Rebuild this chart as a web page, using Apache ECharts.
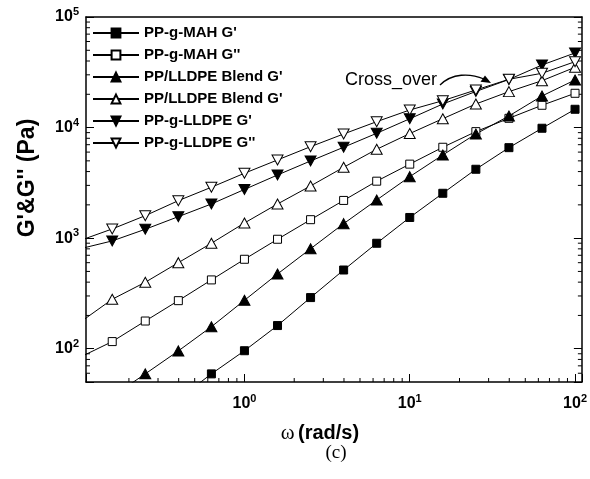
<!DOCTYPE html>
<html>
<head>
<meta charset="utf-8">
<script src="https://cdn.jsdelivr.net/npm/echarts@6/dist/echarts.min.js"></script>
<style>
html,body{margin:0;padding:0;background:#fff;}
#c{width:590px;height:479px;}
</style>
</head>
<body>
<div id="c"></div>
<script>
// ---- data ----
const freq = [0.1, 0.1585, 0.2512, 0.3981, 0.631, 1, 1.585, 2.512, 3.981, 6.31, 10, 15.85, 25.12, 39.81, 63.1, 100];
const mahGp    = [null, null, null, 35, 59.2, 95.9, 162, 290, 515, 899, 1538, 2546, 4198, 6580, 9860, 14640];
const mahGpp   = [83, 116, 178, 272, 419, 644, 977, 1469, 2193, 3275, 4670, 6637, 9190, 12130, 15910, 20420];
const blendGp  = [null, 37, 59.2, 95.5, 158, 274, 474, 802, 1352, 2213, 3596, 5651, 8750, 12730, 19310, 26940];
const blendGpp = [171, 280, 399, 600, 899, 1371, 2037, 2965, 4373, 6365, 8828, 12030, 16340, 21130, 26550, 35080];
const lldpeGp  = [798, 944, 1203, 1564, 2037, 2756, 3726, 4989, 6638, 8878, 12010, 16340, 21200, 27220, 36810, 47290];
const lldpeGpp = [946, 1211, 1597, 2183, 2886, 3863, 5096, 6719, 8750, 11310, 14420, 17500, 21880, 27330, 30980, 39440];

const seriesNames  = ['mahGp', 'mahGpp', 'blendGp', 'blendGpp', 'lldpeGp', 'lldpeGpp'];
const legendLabels = ["PP-g-MAH G'", "PP-g-MAH G''", "PP/LLDPE Blend G'", "PP/LLDPE Blend G'", "PP-g-LLDPE G'", "PP-g-LLDPE G''"];

// axis ranges and minor tick positions
const X_MIN = 0.11, X_MAX = 110;
const Y_MIN = 50, Y_MAX = 100000;
const xMinorTicks = [0.2,0.3,0.4,0.5,0.6,0.7,0.8,0.9, 2,3,4,5,6,7,8,9, 20,30,40,50,60,70,80,90];
const yMinorTicks = [60,70,80,90, 200,300,400,500,600,700,800,900, 2000,3000,4000,5000,6000,7000,8000,9000, 20000,30000,40000,50000,60000,70000,80000,90000];

const SANS = 'Liberation Sans, Arial, Helvetica, sans-serif';
const SERIF = 'Liberation Serif, Times New Roman, serif';

function pairs(arr){ const out=[]; arr.forEach((v,i)=>{ if(v!==null) out.push([freq[i], v]); }); return out; }

const DOWN_TRI = 'path://M0,0 L12,0 L6,10 Z';
function mk(name, arr, symbol, filled){
  return {
    name, type:'line', data: pairs(arr), symbol,
    symbolSize: symbol === 'rect' ? 8 : [11, 10],
    showAllSymbol: true, clip: true,
    lineStyle:{color:'#000', width:1},
    itemStyle:{color: filled ? '#000' : '#fff', borderColor:'#000', borderWidth:1},
    emphasis:{disabled:true}
  };
}

function powLabel(v){
  const l = Math.log10(v); const e = Math.round(l);
  if (Math.abs(l - e) > 1e-6) return '';
  return '{b|10}{s|' + e + '}';
}
const labelRich = {
  b:{fontSize:16, fontWeight:'bold', fontFamily:SANS, color:'#000'},
  s:{fontSize:11, fontWeight:'bold', fontFamily:SANS, color:'#000', padding:[0,0,10,0]}
};

const chart = echarts.init(document.getElementById('c'), null, {renderer:'canvas'});
const axisLine = {show:true, lineStyle:{color:'#000', width:1.5}};
chart.setOption({
  animation:false,
  backgroundColor:'#fff',
  grid:{left:86, top:17, right:5, bottom:97, containLabel:false},
  xAxis:[
    {type:'log', logBase:10, min:X_MIN, max:X_MAX, position:'bottom',
     axisLine, axisTick:{show:true, inside:true, length:8, lineStyle:{color:'#000', width:1}},
     axisLabel:{formatter:powLabel, rich:labelRich, margin:11, showMinLabel:true, showMaxLabel:true},
     splitLine:{show:false}, minorTick:{show:false}},
    {type:'log', logBase:10, min:X_MIN, max:X_MAX, position:'top',
     axisLine, axisTick:{show:false}, axisLabel:{show:false}, splitLine:{show:false}}
  ],
  yAxis:[
    {type:'log', logBase:10, min:Y_MIN, max:Y_MAX, position:'left',
     axisLine, axisTick:{show:true, inside:true, length:8, lineStyle:{color:'#000', width:1}},
     axisLabel:{formatter:powLabel, rich:labelRich, margin:7},
     splitLine:{show:false}},
    {type:'log', logBase:10, min:Y_MIN, max:Y_MAX, position:'right',
     axisLine, axisTick:{show:true, inside:true, length:8, lineStyle:{color:'#000', width:1}},
     axisLabel:{show:false}, splitLine:{show:false}}
  ],
  legend:{
    data: seriesNames, orient:'vertical', left:87, top:20,
    itemWidth:46, itemHeight:11, itemGap:6,
    formatter: n => legendLabels[seriesNames.indexOf(n)],
    textStyle:{fontFamily:SANS, fontSize:15, fontWeight:'bold', color:'#000', lineHeight:16},
    selectedMode:false
  },
  series:[
    mk('mahGp', mahGp, 'rect', true),
    mk('mahGpp', mahGpp, 'rect', false),
    mk('blendGp', blendGp, 'triangle', true),
    mk('blendGpp', blendGpp, 'triangle', false),
    mk('lldpeGp', lldpeGp, DOWN_TRI, true),
    mk('lldpeGpp', lldpeGpp, DOWN_TRI, false),
    {type:'custom', name:'xminor', silent:true, data: xMinorTicks.map(v=>[v, Y_MIN]),
     renderItem:(p, api)=>{ const b = api.coord([api.value(0), Y_MIN]);
       return {type:'line', shape:{x1:b[0], y1:b[1], x2:b[0], y2:b[1]-4}, style:{stroke:'#000', lineWidth:1}}; }},
    {type:'custom', name:'yminor', silent:true, data: yMinorTicks.map(v=>[X_MIN, v]),
     renderItem:(p, api)=>{ const l = api.coord([X_MIN, api.value(1)]); const r = api.coord([X_MAX, api.value(1)]);
       return {type:'group', children:[
         {type:'line', shape:{x1:l[0], y1:l[1], x2:l[0]+4, y2:l[1]}, style:{stroke:'#000', lineWidth:1}},
         {type:'line', shape:{x1:r[0], y1:r[1], x2:r[0]-4, y2:r[1]}, style:{stroke:'#000', lineWidth:1}}
       ]}; }}
  ],
  graphic:[
    {type:'text', x:28, y:178, rotation:Math.PI/2,
     style:{text:"G'&G'' (Pa)", fontFamily:SANS, fontSize:23, fontWeight:'bold', fill:'#000', align:'center', verticalAlign:'middle'}},
    {type:'text', x:320, y:433,
     style:{text:'{w|ω} {r|(rad/s)}', align:'center', verticalAlign:'middle', fill:'#000',
       rich:{w:{fontFamily:SERIF, fontSize:21, fill:'#000'}, r:{fontFamily:SANS, fontSize:20, fontWeight:'bold', fill:'#000'}}}},
    {type:'text', x:336, y:453,
     style:{text:'(c)', fontFamily:SERIF, fontSize:19, fill:'#000', align:'center', verticalAlign:'middle'}},
    {type:'text', x:345, y:80,
     style:{text:'Cross_over', fontFamily:SANS, fontSize:18, fill:'#000', align:'left', verticalAlign:'middle'}},
    {type:'bezierCurve', shape:{x1:440, y1:85, cpx1:452, cpy1:73, cpx2:470, cpy2:73, x2:484, y2:79},
     style:{stroke:'#000', lineWidth:1.3, fill:null}},
    {type:'polygon', shape:{points:[[491,83],[480.5,81.8],[485,75.5]]}, style:{fill:'#000'}}
  ]
});
</script>
</body>
</html>
